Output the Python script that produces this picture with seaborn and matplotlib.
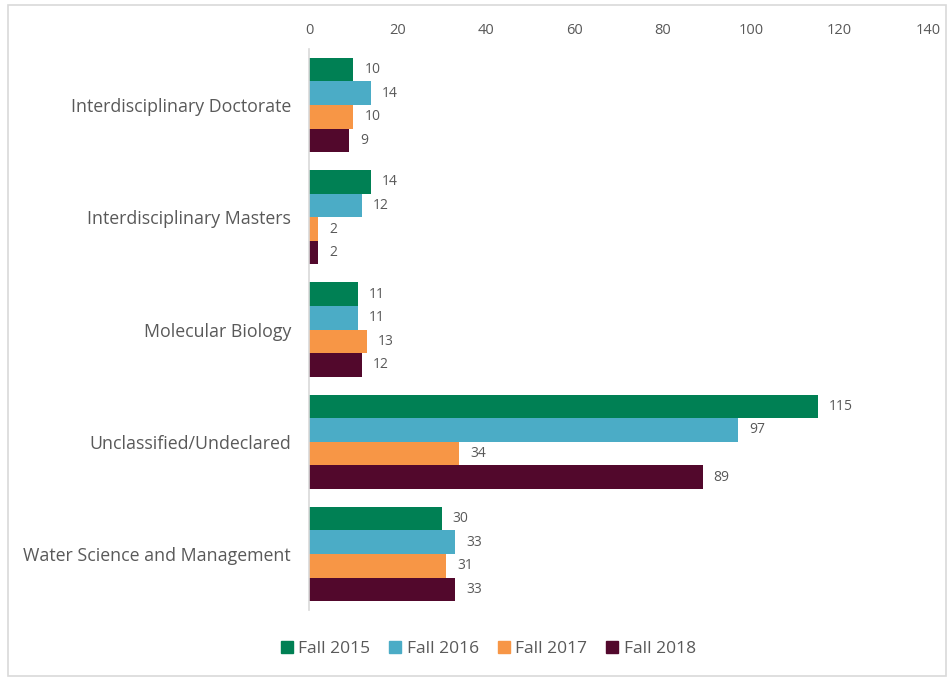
import matplotlib
matplotlib.use('Agg')
import matplotlib.pyplot as plt
import matplotlib.patches as mpatches
import seaborn as sns
import pandas as pd

#-------------------------------------------------------------------------------------------------------------
# Data
#-------------------------------------------------------------------------------------------------------------

PROGRAMS = ['Interdisciplinary Doctorate', 'Interdisciplinary Masters', 'Molecular Biology',
            'Unclassified/Undeclared', 'Water Science and Management']
TERMS = ['Fall 2015', 'Fall 2016', 'Fall 2017', 'Fall 2018']
FALL_2015 = [10, 14, 11, 115, 30]
FALL_2016 = [14, 12, 11, 97, 33]
FALL_2017 = [10, 2, 13, 34, 31]
FALL_2018 = [9, 2, 12, 89, 33]
X_TICKS = [0, 20, 40, 60, 80, 100, 120, 140]

COLOURS = ['#008054', '#4bacc6', '#f79646', '#52082c']
TEXT_GREY = '#595959'

#-------------------------------------------------------------------------------------------------------------
# Plot
#-------------------------------------------------------------------------------------------------------------

rows = []
for term, values in zip(TERMS, [FALL_2015, FALL_2016, FALL_2017, FALL_2018]):
    for program, v in zip(PROGRAMS, values):
        rows.append({'program': program, 'term': term, 'count': v})
df = pd.DataFrame(rows)

sns.set_style('white')
plt.rcParams['font.family'] = ['Open Sans', 'DejaVu Sans']

fig = plt.figure(figsize=(9.48, 6.78), dpi=100)
ax = fig.add_axes([0.326, 0.100, 0.653, 0.828])

sns.barplot(data=df, y='program', x='count', hue='term', order=PROGRAMS, hue_order=TERMS,
            palette=COLOURS, orient='h', width=0.84, saturation=1, linewidth=0, ax=ax, legend=False)

for container in ax.containers:
    ax.bar_label(container, padding=8, fontsize=10, color=TEXT_GREY)

ax.set_xlim(0, 140)
ax.set_xticks(X_TICKS)
ax.xaxis.tick_top()
ax.tick_params(axis='x', length=0, labelsize=10.5, labelcolor=TEXT_GREY, pad=8)
ax.tick_params(axis='y', length=0, labelsize=12.8, labelcolor=TEXT_GREY, pad=13)
ax.set_xlabel('')
ax.set_ylabel('')
ax.grid(False)
for side in ['top', 'right', 'bottom']:
    ax.spines[side].set_visible(False)
ax.spines['left'].set_color('#d9d9d9')
ax.spines['left'].set_linewidth(1.2)

handles = [mpatches.Patch(color=c, label=t) for c, t in zip(COLOURS, TERMS)]
fig.legend(handles=handles, loc='center', bbox_to_anchor=(0.515, 0.043), ncol=4, frameon=False,
           fontsize=12.5, labelcolor=TEXT_GREY, handlelength=0.7, handleheight=0.7,
           handletextpad=0.3, columnspacing=1.1)

# light outer border like the source chart area
fig.add_artist(mpatches.Rectangle((8 / 948, 2 / 678), 938 / 948, 671 / 678, transform=fig.transFigure,
                                  fill=False, edgecolor='#d9d9d9', linewidth=1.2))

fig.savefig('out.png', dpi=100)
